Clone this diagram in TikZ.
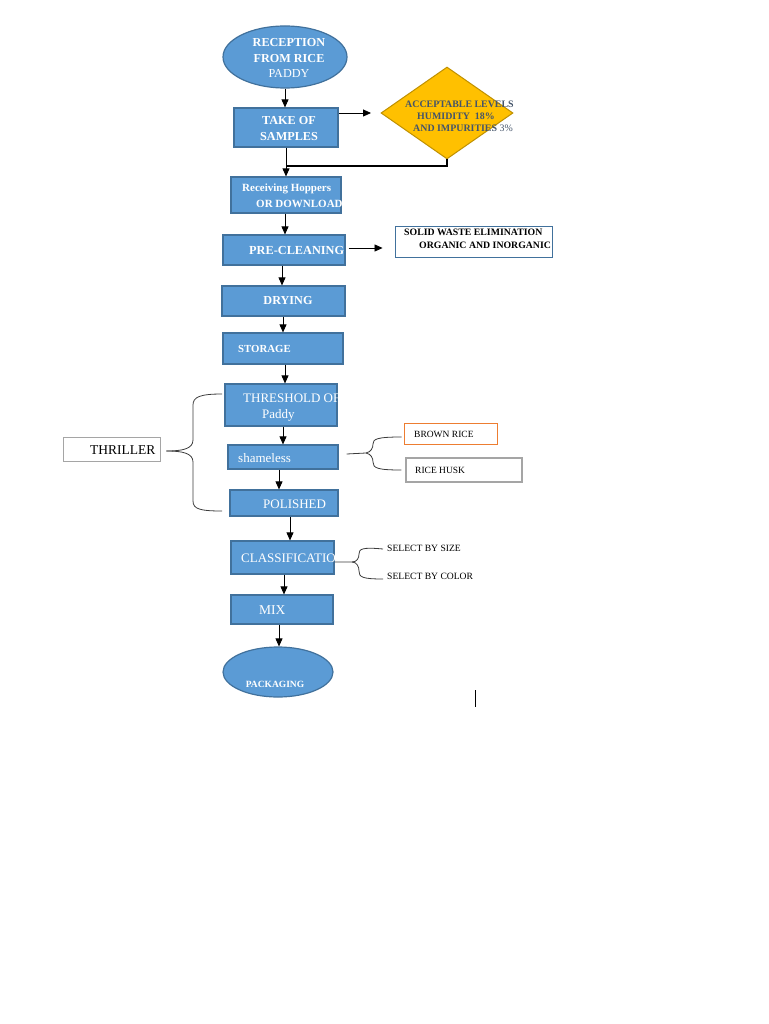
\documentclass[tikz,border=0pt]{standalone}
\usepackage{fontspec}
\setmainfont{Liberation Serif}
\usetikzlibrary{shapes.geometric,arrows.meta,calc}
\definecolor{boxblue}{RGB}{91,155,213}
\definecolor{boxedge}{RGB}{65,113,156}
\definecolor{diafill}{RGB}{255,192,0}
\definecolor{diaedge}{RGB}{191,144,0}
\definecolor{diatext}{RGB}{68,84,106}
\definecolor{orangeedge}{RGB}{237,125,49}
\definecolor{grayedge}{RGB}{165,165,165}
\definecolor{bracecol}{RGB}{60,60,60}
\newcommand\setfs[2]{\fontsize{#1}{#2}\selectfont}
\begin{document}
\begin{tikzpicture}[x=1pt,y=-1pt,
  blk/.style={draw=boxedge,fill=boxblue,line width=1.2pt,inner sep=0pt,rectangle},
  oval/.style={draw=boxedge,fill=boxblue,line width=1.2pt,inner sep=0pt,ellipse},
  wtxt/.style={text=white,inner sep=0pt},
  ktxt/.style={text=black,inner sep=0pt},
  arr/.style={draw=black,line width=0.8pt,-{Triangle[length=8pt,width=7pt]}},
  brc/.style={draw=bracecol,line width=0.8pt},
  side/.style={draw,fill=white,inner sep=0pt,rectangle}]
\useasboundingbox (0,0) rectangle (768,1024);

% ---- main column shapes
\node[oval,minimum width=124pt,minimum height=62pt] (rec) at (285,57) {};
\node[wtxt,align=center,font=\setfs{12.2}{15.5}] (rect) at (289,58) {\textbf{RECEPTION}\\\textbf{FROM RICE}\\PADDY};

\node[blk,minimum width=104pt,minimum height=39pt] (take) at (286,127.5) {};
\node[wtxt,align=center,font=\setfs{12.2}{16}\bfseries] (taket) at (289,129) {TAKE OF\\SAMPLES};

\node[diamond,draw=diaedge,fill=diafill,line width=1pt,inner sep=0pt,minimum width=132pt,minimum height=92pt] (dia) at (447,113) {};
\node[text=diatext,anchor=west,inner sep=0pt,font=\setfs{9.9}{11}\bfseries] (d1) at (405,104) {ACCEPTABLE LEVELS};
\node[text=diatext,anchor=west,inner sep=0pt,font=\setfs{9.9}{11}\bfseries] (d2) at (417,116) {HUMIDITY\ \ 18\%};
\node[text=diatext,anchor=west,inner sep=0pt,font=\setfs{9.9}{11}] (d3) at (413,128) {\textbf{AND IMPURITIES} 3\%};

\node[blk,minimum width=110pt,minimum height=36pt] (recv) at (286,195) {};
\begin{scope}
\clip (recv.south west) rectangle (recv.north east);
\node[wtxt,anchor=west,font=\setfs{11}{12}\bfseries] (recv1) at (242,189) {Receiving Hoppers};
\node[wtxt,anchor=west,font=\setfs{11}{12}\bfseries] (recv2) at (256,204) {OR DOWNLOAD};
\end{scope}

\node[blk,minimum width=122pt,minimum height=30pt] (pre) at (284,250) {};
\node[wtxt,anchor=west,font=\setfs{12.3}{14}\bfseries] (pret) at (249,250) {PRE-CLEANING};

\node[side,draw=boxedge,line width=0.9pt,minimum width=157pt,minimum height=31pt] (waste) at (473.5,241.5) {};
\node[ktxt,anchor=west,font=\setfs{9.8}{11}\bfseries] (w1) at (404,232) {SOLID WASTE ELIMINATION};
\node[ktxt,anchor=west,font=\setfs{9.8}{11}\bfseries] (w2) at (419,245) {ORGANIC AND INORGANIC};

\node[blk,minimum width=123pt,minimum height=30pt] (dry) at (283.5,301) {};
\node[wtxt,font=\setfs{12.2}{14}\bfseries] (dryt) at (288,301) {DRYING};

\node[blk,minimum width=120pt,minimum height=31pt] (stor) at (283,348.5) {};
\node[wtxt,anchor=west,font=\setfs{10.8}{12}\bfseries] (stort) at (238,349) {STORAGE};

\node[blk,minimum width=112pt,minimum height=42pt] (thr) at (281,405) {};
\begin{scope}
\clip (thr.south west) rectangle (thr.north east);
\node[wtxt,anchor=west,font=\setfs{13}{15}] (thr1) at (243,398) {THRESHOLD OF};
\end{scope}
\node[wtxt,anchor=west,font=\setfs{13}{15}] (thr2) at (262,415) {Paddy};

\node[blk,minimum width=110pt,minimum height=24pt] (sham) at (283,457) {};
\node[wtxt,anchor=west,font=\setfs{13}{15}] (shamt) at (238,458) {shameless};

\node[blk,minimum width=108pt,minimum height=26pt] (pol) at (284,503) {};
\node[wtxt,anchor=west,font=\setfs{13}{15}] (polt) at (263,504) {POLISHED};

\node[blk,minimum width=103pt,minimum height=33pt] (cls) at (282.5,557.5) {};
\begin{scope}
\clip (cls.south west) rectangle (cls.north east);
\node[wtxt,anchor=west,font=\setfs{13}{15}] (clst) at (241,558) {CLASSIFICATION};
\end{scope}

\node[blk,minimum width=102pt,minimum height=29pt] (mix) at (282,609.5) {};
\node[wtxt,anchor=west,font=\setfs{13.5}{15}] (mixt) at (259,610) {MIX};

\node[oval,minimum width=110pt,minimum height=50pt] (pack) at (278,672) {};
\node[wtxt,font=\setfs{9.5}{11}\bfseries] (packt) at (275,684) {PACKAGING};

% ---- side boxes
\node[side,draw=grayedge,line width=0.8pt,minimum width=97pt,minimum height=24pt] (thril) at (111.5,449) {};
\node[ktxt,anchor=west,font=\setfs{13.5}{15}] (thrilt) at (90,450) {THRILLER};

\node[side,draw=orangeedge,line width=1pt,minimum width=93pt,minimum height=21pt] (brown) at (450.5,433.5) {};
\node[ktxt,anchor=west,font=\setfs{9.5}{11}] (brownt) at (414,434) {BROWN RICE};

\node[side,draw=grayedge,line width=1.3pt,minimum width=116pt,minimum height=24pt] (husk) at (464,470) {};
\node[ktxt,anchor=west,font=\setfs{9.5}{11}] (huskt) at (415,470) {RICE HUSK};

\node[ktxt,anchor=west,font=\setfs{9.6}{11}] (size) at (387,548) {SELECT BY SIZE};
\node[ktxt,anchor=west,font=\setfs{9.6}{11}] (color) at (387,576) {SELECT BY COLOR};

% ---- connectors
\coordinate (a1) at (371,113);
\coordinate (j) at (286,166);
\draw[arr] (rec.south) -- (rec.south |- take.north);
\draw[arr] (take.east |- a1) -- (a1);
\draw[line width=2.2pt] (dia.south) |- (j);
\draw[arr] (take.south) -- (recv.north);
\draw[arr] ([xshift=-1pt]recv.south) -- ([xshift=-1pt]recv.south |- pre.north);
\draw[arr] ([xshift=3pt,yshift=2pt]pre.east) -- ([xshift=-12pt,yshift=2pt]pre.east -| waste.west);
\draw[arr] ([xshift=-2pt]pre.south) -- ([xshift=-2pt]pre.south |- dry.north);
\draw[arr] ([xshift=-0.5pt]dry.south) -- ([xshift=-0.5pt]dry.south |- stor.north);
\draw[arr] ([xshift=2pt]stor.south) -- ([xshift=2pt]stor.south |- thr.north);
\draw[arr] ([xshift=2pt]thr.south) -- ([xshift=2pt]thr.south |- sham.north);
\draw[arr] ([xshift=-4pt]sham.south) -- ([xshift=-4pt]sham.south |- pol.north);
\draw[arr] ([xshift=6pt]pol.south) -- ([xshift=6pt]pol.south |- cls.north);
\draw[arr] ([xshift=1.5pt]cls.south) -- ([xshift=1.5pt]cls.south |- mix.north);
\draw[arr] ([xshift=-3pt]mix.south) -- ([xshift=-3pt]mix.south |- pack.north);

% ---- braces
\draw[brc] ([xshift=6pt,yshift=-2pt]thril.east) .. controls (182,451) and (193,449) .. (193,440) -- (193,405)
  .. controls (193,397) and (200,394) .. (222,394);
\draw[brc] ([xshift=6pt,yshift=-2pt]thril.east) .. controls (182,451) and (193,453) .. (193,462) -- (193,501)
  .. controls (193,509) and (200,511) .. (222,511);

\draw[brc] ([xshift=8pt,yshift=3pt]sham.east) -- (366,453) .. controls (371,452) and (373,448) .. (373,444)
  .. controls (373,439) and (377,437) .. ([xshift=-2pt,yshift=-3.5pt]brown.west);
\draw[brc] (366,453) .. controls (371,454) and (373,458) .. (373,462)
  .. controls (373,468) and (377,470) .. ([xshift=-4pt]husk.west);

\draw[brc] ([yshift=-4.5pt]cls.east) -- (352,562) .. controls (357,562) and (359,558) .. (359,554)
  .. controls (359,549) and (362,547) .. ([xshift=-4pt,yshift=-1pt]size.west);
\draw[brc] (352,562) .. controls (357,562) and (359,567) .. (359,571)
  .. controls (359,577) and (362,579) .. ([xshift=-4pt,yshift=-3pt]color.west);

% ---- stray text cursor
\coordinate (cur1) at (475,690);
\coordinate (cur2) at (475,707);
\draw[line width=1pt] (cur1) -- (cur2);
\end{tikzpicture}
\end{document}
